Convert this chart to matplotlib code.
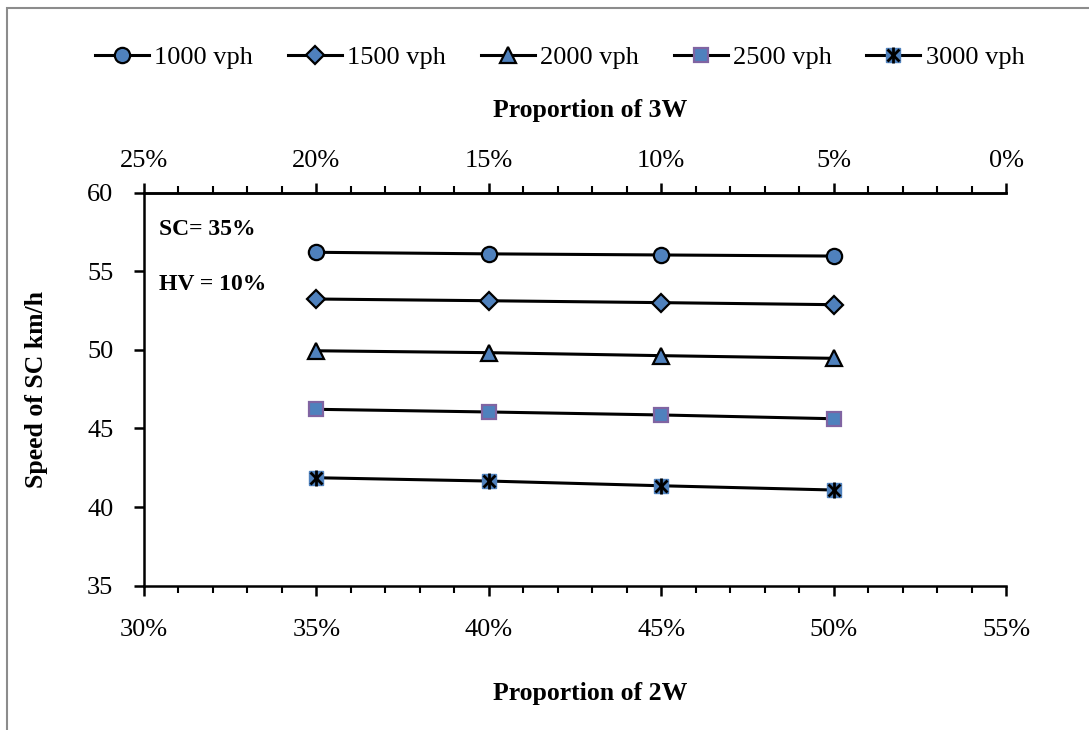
import numpy as np
import matplotlib
matplotlib.use("Agg")
import matplotlib.pyplot as plt
from matplotlib.patches import Rectangle
from matplotlib.ticker import MultipleLocator, FixedLocator, FuncFormatter

plt.rcParams['font.family'] = ['Liberation Serif', 'DejaVu Serif']

# share of two-wheelers (bottom axis, %)
prop_2w = [35, 40, 45, 50]
# share of three-wheelers shown on the top axis (%)
prop_3w_ticks = [0, 5, 10, 15, 20, 25]

# speed of small cars, km/h, one series per traffic volume
speed_1000 = [56.2, 56.1, 56.03, 55.96]
speed_1500 = [53.23, 53.12, 53.0, 52.87]
speed_2000 = [49.94, 49.82, 49.63, 49.46]
speed_2500 = [46.22, 46.05, 45.86, 45.62]
speed_3000 = [41.87, 41.66, 41.36, 41.09]

labels = ['1000 vph', '1500 vph', '2000 vph', '2500 vph', '3000 vph']

blue = '#4F81BD'
pct = FuncFormatter(lambda v, p: f'{v:.0f}%')

fig = plt.figure(figsize=(10.89, 7.30), dpi=100)
ax = fig.add_axes([0.1322, 0.1975, 0.7917, 0.5388])

h1, = ax.plot(prop_2w, speed_1000, color='black', lw=2.2, marker='o', ms=11,
              mfc=blue, mec='black', mew=1.6)
h2, = ax.plot(prop_2w, speed_1500, color='black', lw=2.2, marker='D', ms=9.5,
              mfc=blue, mec='black', mew=1.6)
h3, = ax.plot(prop_2w, speed_2000, color='black', lw=2.2, marker='^', ms=11,
              mfc=blue, mec='black', mew=1.6)
h4, = ax.plot(prop_2w, speed_2500, color='black', lw=2.2, marker='s', ms=9.5,
              mfc=blue, mec='#8064A2', mew=1.6)
h5a, = ax.plot(prop_2w, speed_3000, color='black', lw=2.2, marker='s', ms=9.5,
               mfc=blue, mec=blue)
# star overlay for the 3000 vph marker
h5b, = ax.plot(prop_2w, speed_3000, ls='none', marker='x', ms=8.5,
               mec='black', mew=2)
h5c, = ax.plot(prop_2w, speed_3000, ls='none', marker='|', ms=11,
               mec='black', mew=2)

ax.set_xlim(30, 55)
ax.set_ylim(35, 60)
ax.xaxis.set_major_locator(MultipleLocator(5))
ax.xaxis.set_minor_locator(MultipleLocator(1))
ax.yaxis.set_major_locator(MultipleLocator(5))
ax.xaxis.set_major_formatter(pct)
ax.tick_params(axis='both', which='major', direction='out', length=7,
               width=1.8, labelsize=19, pad=17)
ax.tick_params(axis='x', which='minor', direction='out', length=5, width=1.5)
ax.tick_params(axis='y', which='major', pad=15)
ax.spines['right'].set_visible(False)
for s in ['left', 'bottom', 'top']:
    ax.spines[s].set_linewidth(1.8)

ax.set_ylabel('Speed of SC km/h', fontsize=18.5, fontweight='bold', labelpad=28)
ax.set_xlabel('Proportion of 2W', fontsize=18.5, fontweight='bold')
ax.xaxis.set_label_coords(0.517, -0.245)

# 3W share on the top axis runs the other way
top = ax.secondary_xaxis('top', functions=(lambda x: 55 - x, lambda x: 55 - x))
top.xaxis.set_major_locator(FixedLocator(prop_3w_ticks))
top.xaxis.set_minor_locator(FixedLocator(range(0, 26)))
top.xaxis.set_major_formatter(pct)
top.tick_params(which='major', direction='out', length=7, width=1.8,
                labelsize=19, pad=8)
top.tick_params(which='minor', direction='out', length=5, width=1.5)
top.spines['top'].set_linewidth(1.8)
fig.text(0.542, 0.849, 'Proportion of 3W', fontsize=18.5, fontweight='bold',
         ha='center', va='center')

ax.text(0.018, 0.905, 'SC= 35%', transform=ax.transAxes, fontsize=17,
        fontweight='bold', va='center')
ax.text(0.018, 0.765, 'HV = 10%', transform=ax.transAxes, fontsize=17,
        fontweight='bold', va='center')

fig.legend([h1, h2, h3, h4, (h5a, h5b, h5c)], labels, loc='center',
           bbox_to_anchor=(0.514, 0.921), ncol=5, frameon=False, fontsize=19,
           handlelength=2.05, handletextpad=0.2, columnspacing=1.31)

fig.patches.append(Rectangle((7 / 1089, -0.05), 1.1, 1 - 8 / 730 + 0.05,
                             transform=fig.transFigure, fill=False,
                             edgecolor='#8c8c8c', lw=1.5))

fig.savefig('out.png', dpi=100)
